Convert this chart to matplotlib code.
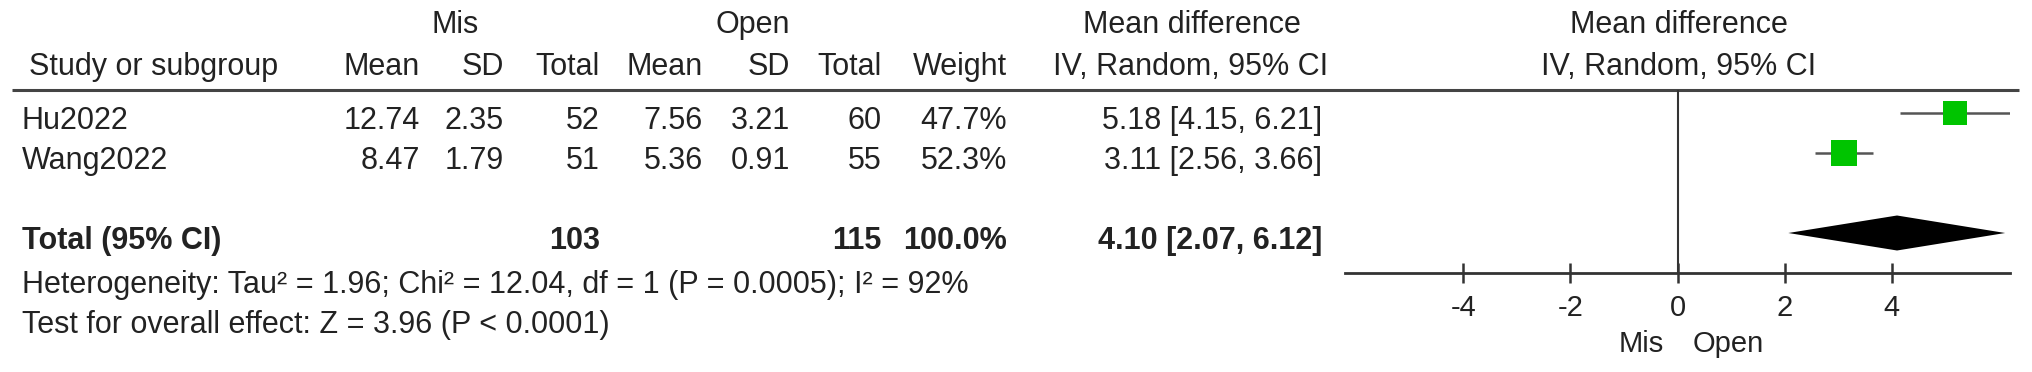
import matplotlib
matplotlib.use("Agg")
import matplotlib.pyplot as plt

plt.rcParams['font.family'] = ['Liberation Sans', 'DejaVu Sans']
plt.rcParams['axes.unicode_minus'] = False

# data
studies = ['Hu2022', 'Wang2022']
mis_mean = [12.74, 8.47]
mis_sd = [2.35, 1.79]
mis_n = [52, 51]
open_mean = [7.56, 5.36]
open_sd = [3.21, 0.91]
open_n = [60, 55]
weights = [47.7, 52.3]
md = [5.18, 3.11]
ci_lo = [4.15, 2.56]
ci_hi = [6.21, 3.66]
total_label = 'Total (95% CI)'
total_md, total_lo, total_hi = 4.10, 2.07, 6.12
het_text = 'Heterogeneity: Tau² = 1.96; Chi² = 12.04, df = 1 (P = 0.0005); I² = 92%'
effect_text = 'Test for overall effect: Z = 3.96 (P < 0.0001)'
xticks = [-4, -2, 0, 2, 4]

W, H = 2032, 372
TXT = '#222222'
FS = 22

fig = plt.figure(figsize=(W / 100, H / 100), dpi=100)

# table area in pixel coordinates
ax = fig.add_axes([0, 0, 1, 1])
ax.set_xlim(0, W)
ax.set_ylim(H, 0)
ax.axis('off')

def txt(x, y, s, ha='right', bold=False, size=FS):
    ax.text(x, y, s, ha=ha, va='center', fontsize=size, color=TXT,
            fontweight='bold' if bold else 'normal')

# headers
txt(455, 25, 'Mis', ha='center')
txt(753, 25, 'Open', ha='center')
txt(1192, 25, 'Mean difference', ha='center')
txt(1679, 25, 'Mean difference', ha='center')
txt(29, 67, 'Study or subgroup', ha='left')
cols = [420, 504, 600, 703, 790, 882, 1007]
for x, s in zip(cols, ['Mean', 'SD', 'Total', 'Mean', 'SD', 'Total', 'Weight']):
    txt(x, 67, s)
txt(1191, 67, 'IV, Random, 95% CI', ha='center')
txt(1679, 67, 'IV, Random, 95% CI', ha='center')
ax.plot([12, 2019], [90, 90], color='#444444', lw=2.2, solid_capstyle='butt')

# study rows
row_y0, row_dy = 121, 40
for i, name in enumerate(studies):
    y = row_y0 + i * row_dy
    txt(22, y, name, ha='left')
    vals = [f'{mis_mean[i]:.2f}', f'{mis_sd[i]:.2f}', f'{mis_n[i]}',
            f'{open_mean[i]:.2f}', f'{open_sd[i]:.2f}', f'{open_n[i]}',
            f'{weights[i]:.1f}%']
    for x, s in zip(cols, vals):
        txt(x, y, s)
    txt(1322, y, f'{md[i]:.2f} [{ci_lo[i]:.2f}, {ci_hi[i]:.2f}]')

# total row
y = row_y0 + 3 * row_dy
txt(22, y, total_label, ha='left', bold=True)
txt(cols[2], y, f'{sum(mis_n)}', bold=True)
txt(cols[5], y, f'{sum(open_n)}', bold=True)
txt(cols[6], y, f'{sum(weights):.1f}%', bold=True)
txt(1322, y, f'{total_md:.2f} [{total_lo:.2f}, {total_hi:.2f}]', bold=True)

txt(22, 285, het_text, ha='left')
txt(22, 325, effect_text, ha='left')
txt(1641, 344, 'Mis', ha='center', size=21)
txt(1728, 344, 'Open', ha='center', size=21)

# forest plot
fx0, fx1, fy0, fy1 = 1345, 2010, 90, 273
axf = fig.add_axes([fx0 / W, 1 - fy1 / H, (fx1 - fx0) / W, (fy1 - fy0) / H])
axf.set_xlim(-6.21, 6.21)
axf.set_ylim(4.0, -0.575)
axf.patch.set_alpha(0)
for side in ['top', 'left', 'right']:
    axf.spines[side].set_visible(False)
axf.spines['bottom'].set_color('#333333')
axf.spines['bottom'].set_linewidth(2.0)
axf.set_yticks([])
axf.set_xticks(xticks)
axf.set_xticklabels([str(t) for t in xticks])
axf.tick_params(axis='x', direction='inout', length=14.4, width=1.8,
                color='#333333', labelcolor=TXT, labelsize=21, pad=8)
axf.axvline(0, color='#333333', lw=1.5)

for i in range(len(studies)):
    axf.plot([ci_lo[i], ci_hi[i]], [i, i], color='#555555', lw=1.8,
             solid_capstyle='butt')
    side_pt = 0.5 * weights[i] * 0.72
    axf.scatter([md[i]], [i], marker='s', s=side_pt ** 2, color='#00c400',
                edgecolors='none', zorder=3)

ty = 3
half = 17.5 / 40
axf.fill([total_lo, total_md, total_hi, total_md],
         [ty, ty - half, ty, ty + half], color='black', lw=0)

fig.savefig('out.png', dpi=100)
